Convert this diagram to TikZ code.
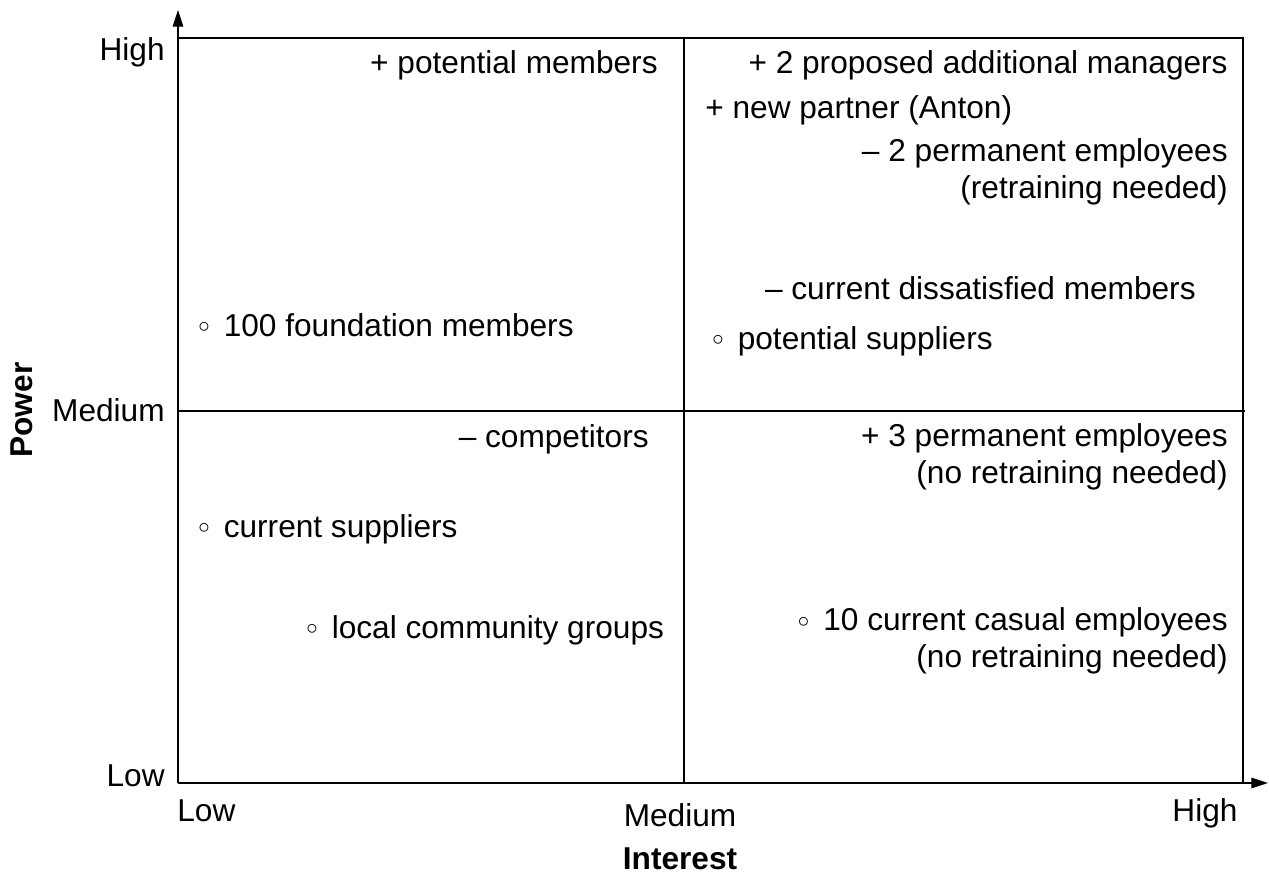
\documentclass[tikz,border=0pt]{standalone}
\usepackage{fontspec}
\setmainfont{Liberation Sans}
\usetikzlibrary{arrows.meta}

\tikzset{
  txt/.style={font=\fontsize{18}{20.5}\selectfont, inner sep=0pt},
  axlbl/.style={txt, font=\fontsize{18}{20.5}\selectfont\bfseries},
  grid/.style={line width=0.7pt},
  axis/.style={line width=0.7pt, -{Triangle[length=9.5pt,width=6pt]}}
}
\newcommand{\bul}{\raisebox{2.2pt}{\scalebox{0.75}{$\circ$}}\ \,}

\begin{document}
\begin{tikzpicture}[x=0.02cm, y=-0.02cm]
\useasboundingbox (0,0) rectangle (1269,876);
% frame of the grid
\coordinate (O) at (178,783);
\coordinate (TL) at (178,38);
\coordinate (TR) at (1243,38);
\coordinate (BR) at (1243,783);
\coordinate (MT) at (684,38);
\coordinate (MB) at (684,783);
\coordinate (ML) at (178,411);
\coordinate (MR) at (1245,411);
\coordinate (Ytip) at (178,10);
\coordinate (Xtip) at (1268,783);
\draw[axis] (O)--(Ytip);
\draw[axis] (O)--(Xtip);
\draw[grid] (TL)--(TR)--(BR);
\draw[grid] (MT)--(MB);
\draw[grid] (ML)--(MR);
% scale labels
\node[txt, anchor=base east] (yhigh) at (165,60) {High};
\node[txt, anchor=base east] (ymed) at (165,421) {Medium};
\node[txt, anchor=base east] (ylow) at (165,786) {Low};
\node[txt, anchor=base west] (xlow) at (177,821) {Low};
\node[txt, anchor=base] (xmed) at (680,826) {Medium};
\node[txt, anchor=base] (xhigh) at (1205,821) {High};
\node[axlbl, anchor=base] (interest) at (680,869) {Interest};
\node[axlbl, rotate=90] (power) at (22,410) {Power};
% stakeholders
\node[txt, anchor=base east] (potmem) at (658,73) {+ potential members};
\node[txt, anchor=base east] (managers) at (1228,73) {+ 2 proposed additional managers};
\node[txt, anchor=base west] (partner) at (705,118) {+ new partner (Anton)};
\node[txt, anchor=base east, align=right] (perm2) at (1228,198) {-- 2 permanent employees\\(retraining needed)};
\node[txt, anchor=base east] (dissat) at (1196,299) {-- current dissatisfied members};
\node[txt, anchor=base west] (potsup) at (712,349) {\bul potential suppliers};
\node[txt, anchor=base west] (found) at (198,336) {\bul 100 foundation members};
\node[txt, anchor=base east] (compet) at (649,447) {-- competitors};
\node[txt, anchor=base east, align=right] (perm3) at (1228,483) {+ 3 permanent employees\\(no retraining needed)};
\node[txt, anchor=base west] (cursup) at (198,537) {\bul current suppliers};
\node[txt, anchor=base west] (community) at (306,638) {\bul local community groups};
\node[txt, anchor=base east, align=right] (casual) at (1228,667) {\bul 10 current casual employees\\(no retraining needed)};
\end{tikzpicture}
\end{document}
